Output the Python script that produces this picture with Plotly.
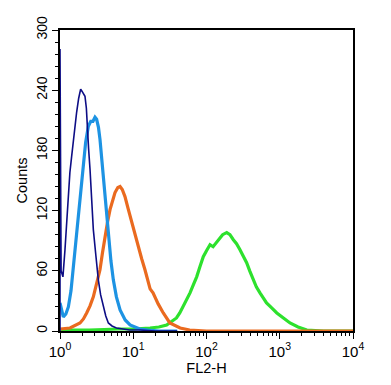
import plotly.graph_objects as go

# log10(FL2-H) positions and counts
navy_log = [0.0, 0.0, 0.015, 0.04, 0.068, 0.09, 0.114, 0.135, 0.159, 0.19, 0.227, 0.255, 0.27, 0.282, 0.30, 0.32, 0.341, 0.36, 0.373, 0.39, 0.41, 0.43, 0.455, 0.49, 0.523, 0.555, 0.59, 0.625, 0.66, 0.71, 0.77, 0.85, 0.95, 1.1, 1.3, 1.6]
navy_cnt = [0, 281, 60, 54, 81, 110, 134, 158, 174, 196, 218, 232, 238, 241, 239, 236, 234, 222, 201, 182, 161, 133, 101, 75, 51, 36, 24, 15, 8, 5, 3, 2, 1, 1, 0, 0]

blue_log = [0.0, 0.02, 0.045, 0.08, 0.114, 0.15, 0.182, 0.215, 0.25, 0.285, 0.318, 0.35, 0.387, 0.42, 0.45, 0.478, 0.50, 0.525, 0.546, 0.57, 0.59, 0.625, 0.66, 0.695, 0.728, 0.77, 0.82, 0.89, 0.956, 1.02, 1.09, 1.2, 1.35, 1.6]
blue_cnt = [28, 20, 14, 17, 24, 40, 61, 88, 114, 142, 168, 188, 204, 209, 209, 213, 211, 203, 191, 172, 151, 122, 94, 70, 51, 34, 21, 11, 6, 4, 2, 1, 0, 0]

orange_log = [0.0, 0.137, 0.273, 0.32, 0.364, 0.41, 0.455, 0.50, 0.546, 0.58, 0.614, 0.65, 0.683, 0.72, 0.751, 0.79, 0.82, 0.85, 0.887, 0.93, 0.979, 1.02, 1.07, 1.115, 1.16, 1.2, 1.23, 1.27, 1.34, 1.41, 1.5, 1.64, 1.77, 2.0, 2.5, 3.0, 3.5, 4.0]
orange_cnt = [2, 3, 8, 12, 18, 25, 34, 46, 61, 78, 94, 109, 121, 132, 138, 143, 144, 141, 134, 122, 108, 96, 84, 72, 61, 50, 42, 38, 27, 18, 8, 3, 1, 0, 0, 0, 0, 0]

green_log = [0.0, 0.4, 0.8, 1.0, 1.23, 1.35, 1.456, 1.52, 1.59, 1.635, 1.68, 1.73, 1.775, 1.82, 1.866, 1.91, 1.956, 2.0, 2.048, 2.09, 2.14, 2.18, 2.22, 2.276, 2.32, 2.366, 2.41, 2.457, 2.5, 2.548, 2.59, 2.639, 2.68, 2.73, 2.78, 2.82, 2.89, 2.96, 3.05, 3.14, 3.25, 3.37, 3.6, 4.0]
green_cnt = [1, 1, 2, 2, 3, 4, 6, 9, 13, 18, 24, 31, 38, 46, 54, 64, 74, 80, 86, 84, 89, 93, 96, 98, 96, 91, 87, 81, 75, 68, 60, 51, 44, 38, 32, 28, 23, 18, 13, 8, 4, 1, 0, 0]

x_tickvals = [1, 10, 100, 1000, 10000]
x_ticktext = ["10<sup>0</sup>", "10<sup>1</sup>", "10<sup>2</sup>", "10<sup>3</sup>", "10<sup>4</sup>"]
x_minor = [m * d for d in (1, 10, 100, 1000) for m in range(2, 10)]
y_tickvals = [0, 60, 120, 180, 240, 300]
y_minor = [v for v in range(0, 301, 12) if v % 60 != 0]

series = [
    (green_log, green_cnt, "#2de12d", 3.2),
    (orange_log, orange_cnt, "#ea6a1f", 3.2),
    (blue_log, blue_cnt, "#1d93e3", 3.2),
    (navy_log, navy_cnt, "#0d0d85", 1.6),
]

fig = go.Figure()
for lg, cnt, col, w in series:
    fig.add_trace(go.Scatter(
        x=[10 ** v for v in lg], y=cnt, mode="lines",
        line=dict(color=col, width=w), showlegend=False, hoverinfo="skip"))

font = "Liberation Sans, Arial, sans-serif"
# page body has an 8px default margin; size/margins compensate for it
fig.update_layout(
    width=383, height=377,
    margin=dict(l=52, r=38, t=22, b=54),
    paper_bgcolor="white", plot_bgcolor="white",
    font=dict(family=font, color="black", size=14),
    xaxis=dict(
        type="log", range=[0, 4], tickvals=x_tickvals, ticktext=x_ticktext,
        ticks="outside", ticklen=6, tickwidth=1.2, tickcolor="black",
        showline=True, linecolor="black", linewidth=1.5, mirror=True,
        showgrid=False, zeroline=False, automargin=False,
        minor=dict(tickmode="array", tickvals=x_minor, ticks="outside",
                   ticklen=3, tickwidth=1, tickcolor="black", showgrid=False),
        tickfont=dict(size=15),
        title=dict(text="FL2-H", font=dict(size=14.5), standoff=1),
    ),
    yaxis=dict(
        range=[0, 300], tickvals=y_tickvals, tickangle=-90,
        ticks="outside", ticklen=6, tickwidth=1.2, tickcolor="black",
        showline=True, linecolor="black", linewidth=1.5, mirror=True,
        showgrid=False, zeroline=False, automargin=False,
        minor=dict(tickmode="array", tickvals=y_minor, ticks="outside",
                   ticklen=3, tickwidth=1, tickcolor="black", showgrid=False),
        tickfont=dict(size=14),
        title=dict(text="Counts", font=dict(size=14.5), standoff=3),
    ),
)
fig.write_html("out.html")
